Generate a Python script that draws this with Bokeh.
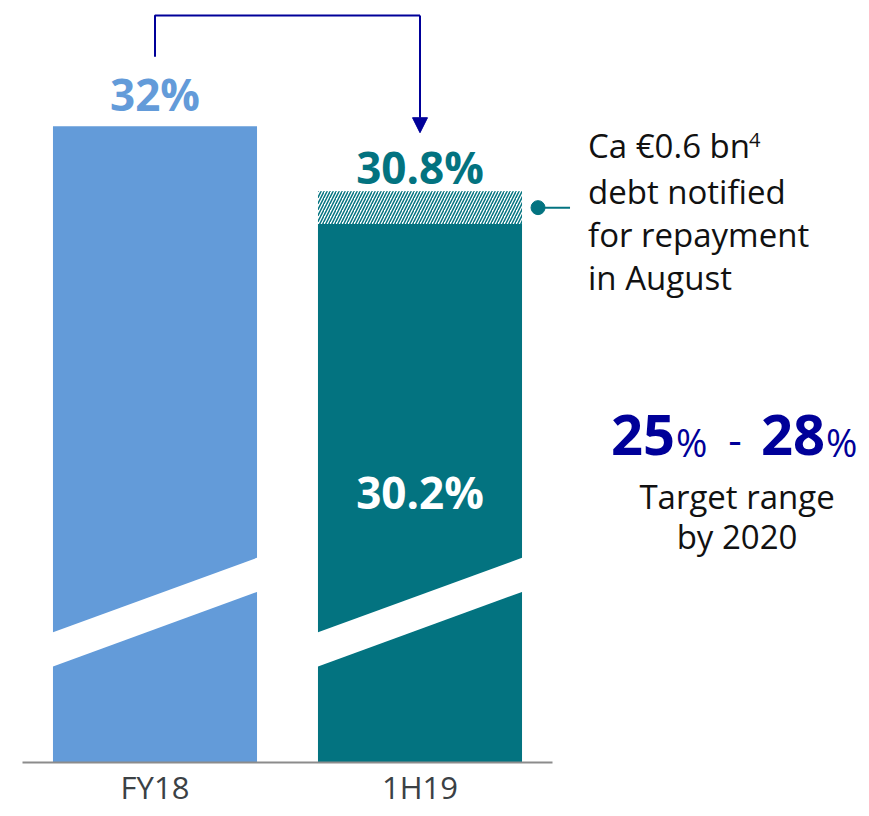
from bokeh.plotting import figure
from bokeh.models import ColumnDataSource, Arrow, NormalHead
from bokeh.core.properties import value
from bokeh.embed import file_html
from bokeh.resources import INLINE

# ---- data ----
categories = ["FY18", "1H19"]
ratios = [32.0, 30.2]            # bar values (%)
notified_repayment = 0.6         # hatched part on 1H19 (30.2 -> 30.8)
top_labels = ["32%", "30.8%"]
inner_label = "30.2%"
target_low, target_high = 25, 28
annotation_lines = ["Ca €0.6 bn", "debt notified", "for repayment", "in August"]
target_lines = ["Target range", "by 2020"]

# ---- style ----
LIGHT = "#639bd9"
TEAL = "#037380"
NAVY = "#000099"
TICK = "#3b4145"
FONT = "Open Sans"

W, H = 861, 808
XS = 265.0      # px per category unit
YS = 54.29      # px per percentage point (broken axis)
x0_px = 154.5   # px position of first category centre
BASE = 20.28    # broken-axis baseline value
y_top = 31 + 180 / YS
y_bot = y_top - H / YS
x_start = -x0_px / XS
x_end = x_start + W / XS
BW = 0.77

p = figure(width=W, height=H, x_range=(x_start, x_end), y_range=(y_bot, y_top),
           x_axis_location=None, y_axis_location=None, toolbar_location=None,
           output_backend="svg", min_border=0, outline_line_color=None)
p.grid.visible = False
p.background_fill_color = "white"
p.border_fill_color = "white"

xs = list(range(len(categories)))
colors = [LIGHT, TEAL]

# bars
src = ColumnDataSource(dict(x=xs, top=ratios, color=colors))
p.vbar(x="x", top="top", bottom=BASE, width=BW, fill_color="color", line_color=None, source=src)

# hatched notified part on 1H19
p.vbar(x=[1], bottom=[ratios[1]], top=[ratios[1] + notified_repayment], width=BW,
       fill_color="white", line_color=None, hatch_pattern="/", hatch_color=TEAL,
       hatch_scale=6, hatch_weight=1.5)

# broken-axis white bands
for i in xs:
    l, r = i - BW / 2 - 0.005, i + BW / 2 + 0.005
    p.patch([l, r, r, l], [22.67, 24.06, 23.43, 22.04], fill_color="white", line_color=None)

# baseline axis line
p.line([-0.5, 1.5], [BASE, BASE], line_color="#8c8c8c", line_width=2)

def txt(x, y, t, size, color, align="center", bold=False, xo=0, yo=0):
    p.text(x=x, y=y, text=t, text_font=value(FONT), text_font_size=size,
           text_font_style="bold" if bold else "normal", text_color=color,
           text_align=align, text_baseline="middle", x_offset=xo, y_offset=yo)

# category labels
txt(xs, [BASE] * 2, categories, "31px", TICK, yo=25)

# top value labels
txt([0], [ratios[0]], [top_labels[0]], "44px", LIGHT, bold=True, yo=-32)
txt([1], [ratios[1] + notified_repayment], [top_labels[1]], "44px", TEAL, bold=True, yo=-24)

# inside label
label_y = BASE + 0.474 * (ratios[1] - BASE)
txt([1], [label_y], [inner_label], "44px", "white", bold=True, yo=-15)

# arrow from FY18 to 1H19
arrow_top = max(ratios) + 2.04
p.line([0, 0, 1], [ratios[0] + 1.28, arrow_top, arrow_top], line_color=NAVY, line_width=2)
p.add_layout(Arrow(end=NormalHead(size=15, fill_color=NAVY, line_color=NAVY),
                   x_start=1, y_start=arrow_top, x_end=1,
                   y_end=ratios[1] + notified_repayment + 1.08,
                   line_color=NAVY, line_width=2))

# connector for annotation
edge = 1 + BW / 2
mid = ratios[1] + notified_repayment / 2
p.line([edge + 16 / XS, edge + 48 / XS], [mid, mid], line_color=TEAL, line_width=2)
p.scatter([edge + 16 / XS], [mid], size=14, fill_color=TEAL, line_color=TEAL)

# annotation text
txt([edge] * 4, [mid] * 4, annotation_lines, "33px", "#111111", align="left",
    xo=66, yo=[-62.6, -16.6, 26.4, 69.4])
txt([edge], [mid], ["4"], "20px", "#111111", align="left", xo=227, yo=-68)

# target range
txt([edge], [label_y], [str(target_low)], "56px", NAVY, align="right", bold=True, xo=153, yo=-72)
txt([edge, edge], [label_y] * 2, ["%", "%"], "38px", NAVY, align="left", xo=[154, 304], yo=-65.5)
txt([edge], [label_y], ["-"], "42px", NAVY, xo=213, yo=-67)
txt([edge], [label_y], [str(target_high)], "56px", NAVY, align="right", bold=True, xo=303, yo=-72)
txt([edge] * 2, [label_y] * 2, target_lines, "33px", "#111111", xo=215, yo=[-10.5, 29.5])

open("out.html", "w").write(file_html(p, INLINE))
